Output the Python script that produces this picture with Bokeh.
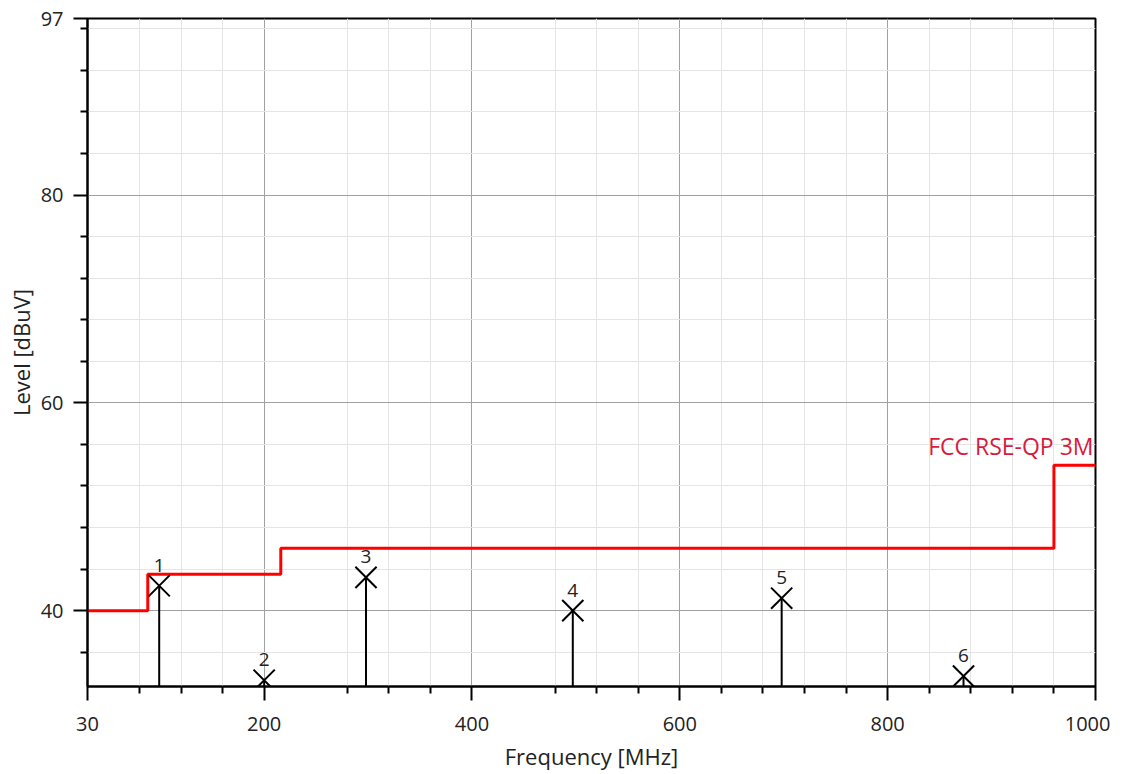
from bokeh.plotting import figure
from bokeh.models import Range1d, FixedTicker, ColumnDataSource, Label
from bokeh.core.properties import value
from bokeh.embed import file_html
from bokeh.resources import INLINE

# ---- data ----
x_ticks = [30, 200, 400, 600, 800, 1000]
x_minor = [80, 120, 160, 280, 320, 360, 480, 520, 560, 640, 680, 720, 760, 840, 880, 920, 960]
y_ticks = [40, 60, 80, 97]
y_minor = [36, 44, 48, 52, 56, 64, 68, 72, 76, 84, 88, 92, 96]
x_min, x_max = 30, 1000
y_min, y_max = 32.7, 97

limit_freq = [30, 88, 216, 960, 1000]
limit_level = [40, 43.5, 46, 54, 54]
limit_name = "FCC RSE-QP 3M"

peak_labels = ["1", "2", "3", "4", "5", "6"]
peak_freq = [99, 200, 298, 497, 698, 873]
peak_level = [42.4, 33.3, 43.2, 40.0, 41.2, 33.7]

FONT = "Open Sans"

p = figure(width=1110, height=774, output_backend="svg", toolbar_location=None,
           x_range=Range1d(x_min, x_max), y_range=Range1d(y_min, y_max),
           min_border_left=87, min_border_right=15, min_border_top=18, min_border_bottom=88)
p.background_fill_color = "white"
p.border_fill_color = "white"
p.outline_line_color = "black"
p.outline_line_width = 2

# axes
p.xaxis.ticker = FixedTicker(ticks=x_ticks, minor_ticks=x_minor)
p.yaxis.ticker = FixedTicker(ticks=y_ticks, minor_ticks=y_minor)
for ax in (p.xaxis[0], p.yaxis[0]):
    ax.axis_line_color = "black"
    ax.axis_line_width = 2
    ax.major_tick_line_color = "black"
    ax.major_tick_line_width = 2
    ax.minor_tick_line_color = "black"
    ax.minor_tick_line_width = 2
    ax.major_tick_in = 0
    ax.major_tick_out = 14
    ax.minor_tick_in = 0
    ax.minor_tick_out = 7
    ax.major_label_text_font = FONT
    ax.major_label_text_font_size = "20px"
    ax.major_label_text_color = "#222222"
    ax.axis_label_text_font = FONT
    ax.axis_label_text_font_size = "22px"
    ax.axis_label_text_font_style = "normal"
    ax.axis_label_text_color = "#222222"
p.xaxis.axis_label = "Frequency [MHz]"
p.yaxis.axis_label = "Level [dBuV]"
p.xaxis.major_label_standoff = 16
p.xaxis.axis_label_standoff = 7
p.yaxis.major_label_standoff = 10
p.yaxis.axis_label_standoff = 2

# grids
for g in (p.xgrid[0], p.ygrid[0]):
    g.grid_line_color = "#a0a0a0"
    g.grid_line_width = 1
    g.minor_grid_line_color = "#e4e4e4"
    g.minor_grid_line_width = 1
p.xgrid.ticker = p.xaxis.ticker
p.ygrid.ticker = p.yaxis.ticker

# limit line
p.step(x=limit_freq, y=limit_level, mode="after", line_color="#ff0000", line_width=3)
p.add_layout(Label(x=x_max, y=limit_level[-1], text=limit_name, text_align="right",
                   text_baseline="bottom", x_offset=-2, y_offset=3,
                   text_color="#d81b3c", text_font=FONT, text_font_size="23px"))

# peaks
src = ColumnDataSource(dict(f=peak_freq, lvl=peak_level, lab=peak_labels,
                            base=[y_min] * len(peak_freq)))
p.segment(x0="f", y0="base", x1="f", y1="lvl", source=src, line_color="black", line_width=2)
p.scatter(x="f", y="lvl", source=src, marker="x", size=30, line_color="black", line_width=2)
p.text(x="f", y="lvl", text="lab", source=src, text_align="center", text_baseline="bottom",
       y_offset=-14, text_font=value(FONT), text_font_size="19px", text_color="#222222")

open("out.html", "w").write(file_html(p, INLINE))
